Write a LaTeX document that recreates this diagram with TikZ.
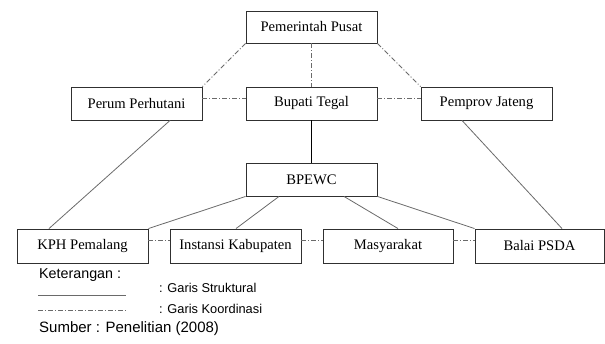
\documentclass[tikz,border=0pt]{standalone}
\usepackage{fontspec}
\setmainfont{Liberation Serif}
\newfontfamily\legfont{Liberation Sans}
\definecolor{boxline}{HTML}{303030}
\definecolor{conn}{HTML}{6A6A6A}
\begin{document}
\begin{tikzpicture}[x=1pt,y=-1pt,
  box/.style={draw=boxline,line width=0.9pt,fill=white,inner sep=0pt,minimum width=131pt,minimum height=33pt,font=\fontsize{14.6}{16}\selectfont},
  struk/.style={draw=conn,line width=0.8pt},
  koord/.style={draw=conn,line width=0.8pt,dash pattern=on 5pt off 2pt on 1pt off 2pt},
  leg/.style={font=\legfont\fontsize{13.5}{15}\selectfont,inner sep=0pt,anchor=base west}]
\useasboundingbox (0,0) rectangle (605,343);
% nodes
\node[box,minimum height=32pt] (pusat) at (311.5,27) {Pemerintah Pusat};
\node[box] (perum) at (136.5,103.5) {Perum Perhutani};
\node[box] (bupati) at (311.5,103.5) {Bupati Tegal};
\node[box] (pemprov) at (486.5,103.5) {Pemprov Jateng};
\node[box] (bpewc) at (311.5,179.5) {BPEWC};
\node[box,minimum height=34pt] (kph) at (82.5,246) {KPH Pemalang};
\node[box,minimum height=34pt] (instansi) at (235.5,246) {Instansi Kabupaten};
\node[box,minimum height=34pt,minimum width=130pt] (masy) at (388,246) {Masyarakat};
\node[box,minimum height=34pt,minimum width=129pt] (balai) at (539.5,246) {Balai PSDA};
% coordination lines
\draw[koord] (pusat.south west) -- (perum.north east);
\draw[koord] (pusat.south) -- (bupati.north);
\draw[koord] (pusat.south east) -- (pemprov.north west);
\draw[koord] ([yshift=5.5pt]perum.east) -- ([yshift=5.5pt]bupati.west);
\draw[koord] ([yshift=5.5pt]bupati.east) -- ([yshift=5.5pt]pemprov.west);
\draw[koord] ([yshift=6pt]kph.east) -- ([yshift=6pt]instansi.west);
\draw[koord] ([yshift=6pt]instansi.east) -- ([yshift=6pt]masy.west);
\draw[koord] ([yshift=6pt]masy.east) -- ([yshift=6pt]balai.west);
% structural lines
\draw[draw=black,line width=0.9pt] (bupati.south) -- (bpewc.north);
\draw[struk] ([xshift=33.5pt]perum.south) -- ([xshift=-33.5pt]kph.north);
\draw[struk] (bpewc.south west) -- (kph.north east);
\draw[struk] ([xshift=-32.5pt]bpewc.south) -- ([xshift=0.5pt]instansi.north);
\draw[struk] ([xshift=32.5pt]bpewc.south) -- ([xshift=10pt]masy.north);
\draw[struk] (bpewc.south east) -- (balai.north west);
\draw[struk] ([xshift=-24.5pt]pemprov.south) -- ([xshift=22.5pt]balai.north);
% legend
\node[leg,font=\legfont\fontsize{14.3}{16}\selectfont] (ket) at (39,278) {Keterangan :};
\coordinate (s1) at (38,295);
\coordinate (s2) at (126,295);
\coordinate (k1) at (38,310);
\coordinate (k2) at (126,310);
\draw[struk] (s1) -- (s2);
\draw[koord] (k1) -- (k2);
\node[leg,font=\legfont\fontsize{12.8}{15}\selectfont] (gs) at (159,292) {: Garis Struktural};
\node[leg,font=\legfont\fontsize{12.8}{15}\selectfont] (gk) at (159,313) {: Garis Koordinasi};
\node[leg,font=\legfont\fontsize{15}{17}\selectfont] (sumber) at (39,332) {Sumber : Penelitian (2008)};
\end{tikzpicture}
\end{document}
